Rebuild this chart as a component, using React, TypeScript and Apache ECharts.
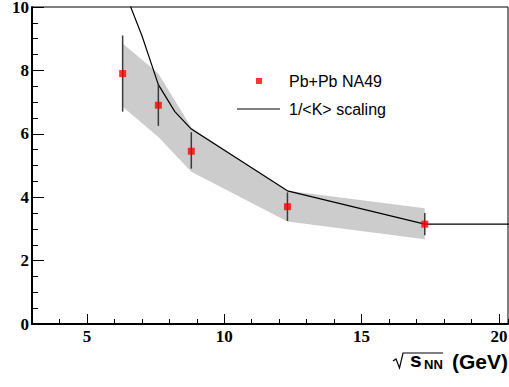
import { useEffect, useRef } from "react";
import * as echarts from "echarts";

// sqrt(s_NN) in GeV
const energies = [6.3, 7.6, 8.8, 12.3, 17.3];
// Pb+Pb NA49 values and their error bars
const ratio = [7.9, 6.9, 5.45, 3.7, 3.15];
const errLow = [6.7, 6.25, 4.9, 3.25, 2.8];
const errHigh = [9.1, 7.55, 6.05, 4.15, 3.5];
// systematic band
const bandUpper = [8.85, 7.9, 6.2, 4.2, 3.65];
const bandLower = [6.85, 5.9, 4.8, 3.23, 2.67];
// 1/<K> scaling curve
const scalingX = [6.3, 7.0, 7.6, 8.2, 8.8, 12.3, 17.3, 20.6];
const scalingY = [10.65, 9.1, 7.55, 6.7, 6.15, 4.2, 3.15, 3.15];

const X_MIN = 3;
const X_MAX = 20.33;
const Y_MIN = 0;
const Y_MAX = 10;

const labelFont = {
  fontFamily: "Liberation Serif",
  fontWeight: "bold" as const,
  fontSize: 17,
  color: "#000",
};

export default function App() {
  const ref = useRef<HTMLDivElement>(null);

  useEffect(() => {
    if (!ref.current) return;
    const chart = echarts.init(ref.current, undefined, { renderer: "svg" });

    const option: any = {
      animation: false,
      backgroundColor: "#fff",
      grid: {
        left: 32,
        right: 1,
        top: 7,
        bottom: 63,
        show: true,
        borderColor: "#000",
        borderWidth: 1,
        containLabel: false,
        outerBoundsMode: "none",
      },
      legend: [
        {
          data: ["Pb+Pb NA49"],
          left: 256,
          top: 73,
          padding: 0,
          itemWidth: 6,
          itemHeight: 6,
          icon: "rect",
          selectedMode: false,
          textStyle: {
            fontFamily: "Liberation Sans",
            fontSize: 16,
            color: "#000",
            padding: [0, 0, 0, 22],
          },
        },
        {
          data: ["1/<K> scaling"],
          left: 237,
          top: 101,
          padding: 0,
          itemWidth: 43,
          itemHeight: 1.2,
          icon: "path://M0,0H43V1.2H0Z",
          selectedMode: false,
          itemStyle: { color: "#000" },
          textStyle: {
            fontFamily: "Liberation Sans",
            fontSize: 16,
            color: "#000",
            padding: [0, 0, 0, 4],
          },
        },
      ],
      xAxis: [
        {
          type: "value",
          min: X_MIN,
          max: X_MAX,
          splitNumber: 3,
          position: "bottom",
          axisLine: { show: true, onZero: false, lineStyle: { color: "#000", width: 2 } },
          axisTick: { show: true, inside: true, length: 10, lineStyle: { color: "#000", width: 1 } },
          axisLabel: { ...labelFont, margin: 4, showMinLabel: false, showMaxLabel: false },
          splitLine: { show: false },
        },
        {
          type: "value",
          min: X_MIN,
          max: X_MAX,
          interval: 1,
          position: "bottom",
          axisLine: { show: false, onZero: false },
          axisTick: { show: true, inside: true, length: 5, lineStyle: { color: "#000", width: 1 } },
          axisLabel: { show: false },
          splitLine: { show: false },
        },
      ],
      yAxis: {
        type: "value",
        min: Y_MIN,
        max: Y_MAX,
        interval: 2,
        axisLine: { show: true, onZero: false, lineStyle: { color: "#000", width: 2 } },
        axisTick: { show: true, inside: true, length: 12, lineStyle: { color: "#000", width: 1 } },
        minorTick: { show: true, splitNumber: 4, length: 6, lineStyle: { color: "#000", width: 1 } },
        axisLabel: { ...labelFont, margin: 3, lineHeight: 12 },
        splitLine: { show: false },
        minorSplitLine: { show: false },
      },
      series: [
        {
          name: "band",
          type: "custom",
          xAxisIndex: 0,
          data: energies.map((x, i) => [x, bandLower[i], bandUpper[i]]),
          encode: { x: 0, y: [1, 2] },
          z: 1,
          renderItem: (params: any, api: any) => {
            if (params.dataIndex !== 0) return null;
            const upper = energies.map((x, i) => api.coord([x, bandUpper[i]]));
            const lower = energies
              .map((x, i) => api.coord([x, bandLower[i]]))
              .reverse();
            return {
              type: "polygon",
              shape: { points: [...upper, ...lower] },
              style: { fill: "#cccccc" },
            };
          },
        },
        {
          name: "1/<K> scaling",
          type: "line",
          xAxisIndex: 0,
          data: scalingX.map((x, i) => [x, scalingY[i]]),
          symbol: "none",
          clip: true,
          z: 2,
          lineStyle: { color: "#000", width: 1.2 },
          itemStyle: { color: "#000" },
        },
        {
          name: "errors",
          type: "custom",
          xAxisIndex: 0,
          data: energies.map((x, i) => [x, errLow[i], errHigh[i]]),
          encode: { x: 0, y: [1, 2] },
          z: 3,
          renderItem: (_params: any, api: any) => {
            const p1 = api.coord([api.value(0), api.value(1)]);
            const p2 = api.coord([api.value(0), api.value(2)]);
            return {
              type: "line",
              shape: { x1: p1[0], y1: p1[1], x2: p2[0], y2: p2[1] },
              style: { stroke: "#3a3a3a", lineWidth: 1.5 },
            };
          },
        },
        {
          name: "Pb+Pb NA49",
          type: "scatter",
          xAxisIndex: 0,
          data: energies.map((x, i) => [x, ratio[i]]),
          symbol: "rect",
          symbolSize: 7,
          z: 4,
          itemStyle: { color: "#ff0000" },
        },
      ],
      graphic: [
        {
          type: "polyline",
          shape: {
            points: [
              [393, 361],
              [396, 359],
              [399.5, 368],
              [403, 353],
              [443, 353],
            ],
          },
          style: { stroke: "#000", lineWidth: 1.2, fill: "none" },
        },
        {
          type: "text",
          x: 410,
          y: 359.7,
          style: {
            text: "s",
            font: "bold 21px 'Liberation Sans'",
            fill: "#000",
            verticalAlign: "middle",
          },
        },
        {
          type: "text",
          x: 424,
          y: 364.8,
          style: {
            text: "NN",
            font: "bold 13px 'Liberation Sans'",
            fill: "#000",
            verticalAlign: "middle",
          },
        },
        {
          type: "text",
          x: 508,
          y: 361,
          style: {
            text: "(GeV)",
            font: "bold 21px 'Liberation Sans'",
            fill: "#000",
            align: "right",
            verticalAlign: "middle",
          },
        },
      ],
    };

    chart.setOption(option);
    return () => chart.dispose();
  }, []);

  return (
    <div
      ref={ref}
      style={{ position: "fixed", left: 0, top: 0, width: 509, height: 387 }}
    />
  );
}
